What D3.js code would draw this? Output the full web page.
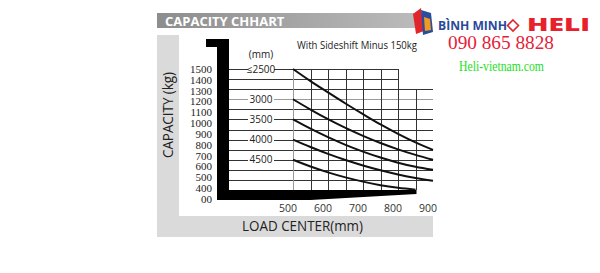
<!DOCTYPE html>
<html>
<head>
<meta charset="utf-8">
<script src="https://cdn.jsdelivr.net/npm/d3@7"></script>
<style>
  body { margin: 0; background: #fff; }
  svg { display: block; }
</style>
</head>
<body>
<svg width="600" height="273"></svg>
<script>
// load centre (mm) along the bottom, one point per vertical grid line
const loadCenters = [500, 550, 600, 650, 700, 750, 800, 850, 900];
const xTickLabels = [500, 600, 700, 800, 900];
const yTickLabels = ["1500", "1400", "1300", "1200", "1100", "1000", "900", "800", "700", "600", "500", "400", "00"];
const gridKg = [1500, 1400, 1300, 1200, 1100, 1000, 900, 800, 700, 600, 500, 400];
const liftHeights = ["≤2500", "3000", "3500", "4000", "4500"];

// capacity (kg) per lift height
const cap2500 = [1500, 1380, 1268, 1158, 1052, 950, 857, 772, 698];
const cap3000 = [1200, 1098, 1003, 916, 837, 766, 703, 648, 599];
const cap3500 = [1000, 908, 824, 748, 681, 622, 571, 530, 500];
const cap4000 = [800, 726, 658, 597, 543, 495, 454, 420, 391];
const cap4500 = [600, 533, 475, 425, 383, 348, 322, 303];
const curves = [cap2500, cap3000, cap3500, cap4000, cap4500];

var svg = d3.select("svg");

var x = d3.scaleLinear().domain([500, 900]).range([293, 433]);
var y = d3.scaleLinear().domain([300, 1500]).range([190, 69]);
var yLab = d3.scalePoint().domain(yTickLabels).range([69, 199]);
var plotLeft = 229;

// grey frame + title bar
var grad = svg.append("defs").append("linearGradient").attr("id", "tb");
grad.append("stop").attr("offset", "0%").attr("stop-color", "#8d8d8d");
grad.append("stop").attr("offset", "100%").attr("stop-color", "#bcbcbc");
svg.append("rect").attr("x", 157).attr("y", 13).attr("width", 268).attr("height", 15).attr("fill", "url(#tb)");
svg.append("text").attr("x", 165).attr("y", 25.5)
  .style("font", "bold 13px 'Open Sans'").attr("fill", "#fff")
  .text("CAPACITY CHHART");

svg.append("rect").attr("x", 157).attr("y", 35).attr("width", 22).attr("height", 202).attr("fill", "#dadada");
svg.append("rect").attr("x", 157).attr("y", 216).attr("width", 276).attr("height", 21).attr("fill", "#dadada");

svg.append("text")
  .attr("transform", "translate(173,115) rotate(-90)")
  .attr("text-anchor", "middle")
  .attr("textLength", 86).attr("lengthAdjust", "spacingAndGlyphs")
  .style("font", "14px 'Open Sans'").attr("fill", "#222")
  .text("CAPACITY (kg)");

svg.append("text").attr("x", 242).attr("y", 231)
  .attr("textLength", 121).attr("lengthAdjust", "spacingAndGlyphs")
  .style("font", "14px 'Open Sans'").attr("fill", "#222")
  .text("LOAD CENTER(mm)");

svg.append("text").attr("x", 297).attr("y", 49)
  .attr("textLength", 120).attr("lengthAdjust", "spacingAndGlyphs")
  .style("font", "10.5px 'Open Sans'").attr("fill", "#222")
  .text("With Sideshift Minus 150kg");

// grid
var grid = svg.append("g").attr("stroke", "#333").attr("stroke-width", 1).attr("shape-rendering", "crispEdges");
grid.selectAll("line.h").data(gridKg).enter().append("line")
  .attr("x1", plotLeft)
  .attr("x2", d => d >= 1400 ? x(800) : x(900))
  .attr("y1", d => Math.round(y(d)) + 0.5).attr("y2", d => Math.round(y(d)) + 0.5)
  .attr("stroke", (d, i) => i === 3 ? "#999" : "#333");
grid.selectAll("line.v").data(loadCenters.slice(0, 8)).enter().append("line")
  .attr("x1", d => Math.round(x(d)) + 0.5).attr("x2", d => Math.round(x(d)) + 0.5)
  .attr("y1", d => d > 800 ? y(1300) : y(1500))
  .attr("y2", y(300))
  .attr("stroke", d => d === 500 ? "#999" : "#333");

// y labels
svg.append("g").selectAll("text").data(yTickLabels).enter().append("text")
  .attr("x", 212).attr("y", d => yLab(d)).attr("dy", "0.35em")
  .attr("text-anchor", "end")
  .style("font", "11px 'Liberation Serif'").attr("fill", "#222")
  .text(d => d);

// x labels
svg.append("g").selectAll("text").data(xTickLabels).enter().append("text")
  .attr("x", d => x(d) - 5).attr("y", 212)
  .attr("text-anchor", "middle")
  .style("font", "10.5px 'Open Sans'").attr("fill", "#333")
  .text(d => d);

// curves
var line = d3.line()
  .x((d, i) => x(loadCenters[i]))
  .y(d => y(d))
  .curve(d3.curveMonotoneX);
svg.append("g").selectAll("path").data(curves).enter().append("path")
  .attr("d", line).attr("fill", "none").attr("stroke", "#111").attr("stroke-width", 2);

// lift height labels
svg.append("text").attr("x", 261).attr("y", 58).attr("text-anchor", "middle")
  .style("font", "10px 'Open Sans'").attr("fill", "#222").text("(mm)");
var lab = svg.append("g").selectAll("g").data(liftHeights).enter().append("g")
  .attr("transform", (d, i) => "translate(261," + y(curves[i][0]) + ")");
lab.append("rect").attr("x", -13).attr("y", -5).attr("width", 26).attr("height", 10).attr("fill", "#fff");
lab.append("text").attr("text-anchor", "middle").attr("dy", "0.35em")
  .style("font", "10px 'Open Sans'").attr("fill", "#222").text(d => d);

// forklift mast and fork
svg.append("path")
  .attr("d", "M206,39H229V190H" + (x(850) + 1) + "V194L" + x(550) + ",200H217V47H206Z")
  .attr("fill", "#000");

// logo
var logo = svg.append("g");
logo.append("path").attr("d", "M413,14L421,8L424,31L416,34Z").attr("fill", "#e0262c");
logo.append("path").attr("d", "M421,10L431,13L433,32L423,35Z").attr("fill", "#2b4da0");
logo.append("path").attr("d", "M424,17L430,19L431,30L425,31Z").attr("fill", "#f39a1e");
logo.append("text").attr("x", 438).attr("y", 30)
  .attr("textLength", 69).attr("lengthAdjust", "spacingAndGlyphs")
  .style("font", "bold 12.5px 'Open Sans'").attr("fill", "#2a4a98").text("BÌNH MINH");
logo.append("path").attr("d", "M513,20L518.5,25.5L513,31L507.5,25.5Z")
  .attr("fill", "none").attr("stroke", "#e0262c").attr("stroke-width", 1.6);
logo.append("text").attr("x", 527).attr("y", 31)
  .attr("textLength", 63).attr("lengthAdjust", "spacingAndGlyphs")
  .style("font", "900 18px 'Open Sans'").attr("fill", "#e8202a").text("HELI");
logo.append("text").attr("x", 448).attr("y", 49)
  .attr("textLength", 106).attr("lengthAdjust", "spacingAndGlyphs")
  .style("font", "18px 'Liberation Serif'").attr("fill", "#e4213a").text("090 865 8828");
logo.append("text").attr("x", 459).attr("y", 71)
  .attr("textLength", 85).attr("lengthAdjust", "spacingAndGlyphs")
  .style("font", "15px 'Liberation Serif'").attr("fill", "#22e01e").text("Heli-vietnam.com");
</script>
</body>
</html>
